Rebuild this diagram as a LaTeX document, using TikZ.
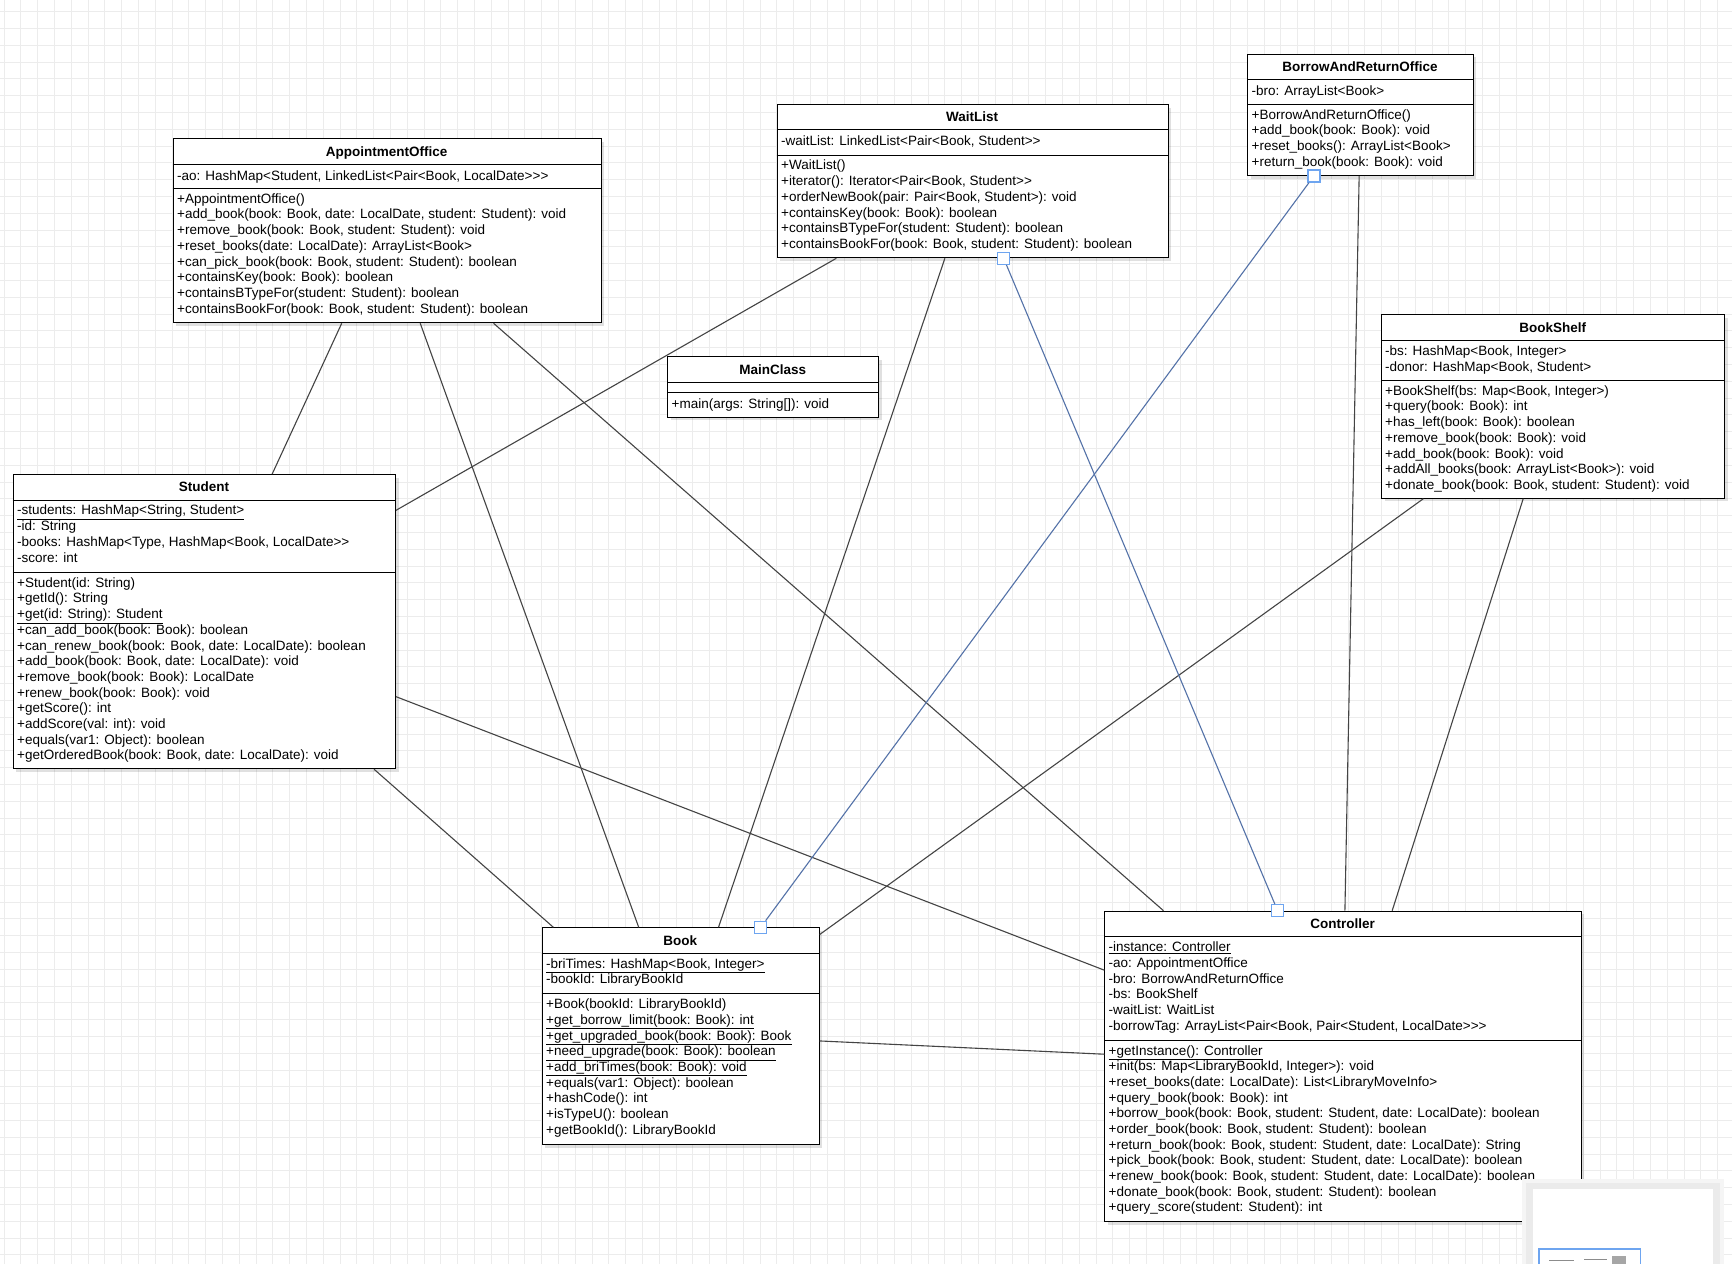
\documentclass[tikz,border=0pt]{standalone}
\usepackage{fontspec}
\setmainfont{Liberation Sans}
\usetikzlibrary{calc,shadows}

\definecolor{gridgray}{RGB}{236,236,236}
\definecolor{edgegray}{RGB}{68,68,68}
\definecolor{selblue}{RGB}{84,114,168}
\definecolor{handleblue}{RGB}{110,165,240}

\begin{document}
\begin{tikzpicture}[x=1pt,y=-1pt]
\tikzset{
  classbox/.style={draw,line width=1pt,fill=white,inner sep=0pt,anchor=north west,
    drop shadow={shadow xshift=3pt,shadow yshift=-3pt,opacity=0.12,fill=black}},
  classline/.style={line width=1pt},
  classtitle/.style={anchor=base,inner sep=0pt,font=\fontsize{13.5}{15.7}\selectfont\bfseries},
  classtext/.style={anchor=north west,inner sep=0pt,align=left,execute at begin node=\strut,
    font=\fontsize{13.5}{15.7}\selectfont},
  assoc/.style={draw=edgegray,line width=1.1pt},
  selassoc/.style={draw=selblue,line width=1.1pt},
  handle/.style={draw=handleblue,line width=1.3pt,fill=white,minimum size=12pt,inner sep=0pt},
  gridline/.style={draw=gridgray,line width=1pt}
}
\useasboundingbox (0,0) rectangle (1732,1264);
\fill[white] (0,0) rectangle (1732,1264);
\foreach \gx in {0,...,102} \draw[gridline] ({4+16.8*\gx},0) -- ({4+16.8*\gx},1264);
\foreach \gy in {0,...,74} \draw[gridline] (0,{11.7+16.8*\gy}) -- (1732,{11.7+16.8*\gy});

\node[classbox,minimum width=428pt,minimum height=184pt] (n_ao) at (172.7,138.3) {};
\draw[classline] (172.7,164) -- (600.7,164);
\draw[classline] (172.7,188.3) -- (600.7,188.3);
\node[classtitle] (n_ao_t) at (386.7,156) {AppointmentOffice};
\node[classtext] (n_ao_a) at (177,169) {-ao: HashMap<Student, LinkedList<Pair<Book, LocalDate>{}>{}>};
\node[classtext] (n_ao_m) at (177,193.3) {+AppointmentOffice()\\
+add\_book(book: Book, date: LocalDate, student: Student): void\\
+remove\_book(book: Book, student: Student): void\\
+reset\_books(date: LocalDate): ArrayList<Book>\\
+can\_pick\_book(book: Book, student: Student): boolean\\
+containsKey(book: Book): boolean\\
+containsBTypeFor(student: Student): boolean\\
+containsBookFor(book: Book, student: Student): boolean};

\node[classbox,minimum width=391pt,minimum height=153pt] (n_wl) at (776.7,104.3) {};
\draw[classline] (776.7,129.7) -- (1167.7,129.7);
\draw[classline] (776.7,155) -- (1167.7,155);
\node[classtitle] (n_wl_t) at (972.2,121.8) {WaitList};
\node[classtext] (n_wl_a) at (781,134.7) {-waitList: LinkedList<Pair<Book, Student>{}>};
\node[classtext] (n_wl_m) at (781,160) {+WaitList()\\
+iterator(): Iterator<Pair<Book, Student>{}>\\
+orderNewBook(pair: Pair<Book, Student>): void\\
+containsKey(book: Book): boolean\\
+containsBTypeFor(student: Student): boolean\\
+containsBookFor(book: Book, student: Student): boolean};

\node[classbox,minimum width=225.4pt,minimum height=121.3pt] (n_bro) at (1247.3,53.7) {};
\draw[classline] (1247.3,79.7) -- (1472.7,79.7);
\draw[classline] (1247.3,104.3) -- (1472.7,104.3);
\node[classtitle] (n_bro_t) at (1360,71.5) {BorrowAndReturnOffice};
\node[classtext] (n_bro_a) at (1251.5,84.7) {-bro: ArrayList<Book>};
\node[classtext] (n_bro_m) at (1251.5,109.3) {+BorrowAndReturnOffice()\\
+add\_book(book: Book): void\\
+reset\_books(): ArrayList<Book>\\
+return\_book(book: Book): void};

\node[classbox,minimum width=343.3pt,minimum height=183.4pt] (n_bs) at (1381,314.3) {};
\draw[classline] (1381,340.7) -- (1724.3,340.7);
\draw[classline] (1381,380.3) -- (1724.3,380.3);
\node[classtitle] (n_bs_t) at (1552.7,332.3) {BookShelf};
\node[classtext] (n_bs_a) at (1385,345.7) {-bs: HashMap<Book, Integer>\\
-donor: HashMap<Book, Student>};
\node[classtext] (n_bs_m) at (1385,385.3) {+BookShelf(bs: Map<Book, Integer>)\\
+query(book: Book): int\\
+has\_left(book: Book): boolean\\
+remove\_book(book: Book): void\\
+add\_book(book: Book): void\\
+addAll\_books(book: ArrayList<Book>): void\\
+donate\_book(book: Book, student: Student): void};

\node[classbox,minimum width=211pt,minimum height=60.7pt] (n_main) at (667.3,356) {};
\draw[classline] (667.3,382.3) -- (878.3,382.3);
\draw[classline] (667.3,392.3) -- (878.3,392.3);
\node[classtitle] (n_main_t) at (772.8,374) {MainClass};
\node[classtext] (n_main_m) at (671.5,397.3) {+main(args: String[]): void};

\node[classbox,minimum width=382.3pt,minimum height=294.3pt] (n_st) at (12.7,474) {};
\draw[classline] (12.7,500) -- (395,500);
\draw[classline] (12.7,572.3) -- (395,572.3);
\node[classtitle] (n_st_t) at (203.9,491.8) {Student};
\node[classtext] (n_st_a) at (17,505) {\underline{-students: HashMap<String, Student>}\\
-id: String\\
-books: HashMap<Type, HashMap<Book, LocalDate>{}>\\
-score: int};
\node[classtext] (n_st_m) at (17,577.3) {+Student(id: String)\\
+getId(): String\\
\underline{+get(id: String): Student}\\
+can\_add\_book(book: Book): boolean\\
+can\_renew\_book(book: Book, date: LocalDate): boolean\\
+add\_book(book: Book, date: LocalDate): void\\
+remove\_book(book: Book): LocalDate\\
+renew\_book(book: Book): void\\
+getScore(): int\\
+addScore(val: int): void\\
+equals(var1: Object): boolean\\
+getOrderedBook(book: Book, date: LocalDate): void};

\node[classbox,minimum width=277pt,minimum height=216.7pt] (n_bk) at (541.7,927.3) {};
\draw[classline] (541.7,953.3) -- (818.7,953.3);
\draw[classline] (541.7,993.7) -- (818.7,993.7);
\node[classtitle] (n_bk_t) at (680.2,945.1) {Book};
\node[classtext] (n_bk_a) at (546,958.3) {\underline{-briTimes: HashMap<Book, Integer>}\\
-bookId: LibraryBookId};
\node[classtext] (n_bk_m) at (546,998.7) {+Book(bookId: LibraryBookId)\\
\underline{+get\_borrow\_limit(book: Book): int}\\
\underline{+get\_upgraded\_book(book: Book): Book}\\
\underline{+need\_upgrade(book: Book): boolean}\\
\underline{+add\_briTimes(book: Book): void}\\
+equals(var1: Object): boolean\\
+hashCode(): int\\
+isTypeU(): boolean\\
+getBookId(): LibraryBookId};

\node[classbox,minimum width=476.4pt,minimum height=310.3pt] (n_ctl) at (1104.3,910.7) {};
\draw[classline] (1104.3,936.7) -- (1580.7,936.7);
\draw[classline] (1104.3,1040) -- (1580.7,1040);
\node[classtitle] (n_ctl_t) at (1342.5,928.5) {Controller};
\node[classtext] (n_ctl_a) at (1108.5,941.7) {\underline{-instance: Controller}\\
-ao: AppointmentOffice\\
-bro: BorrowAndReturnOffice\\
-bs: BookShelf\\
-waitList: WaitList\\
-borrowTag: ArrayList<Pair<Book, Pair<Student, LocalDate>{}>{}>};
\node[classtext] (n_ctl_m) at (1108.5,1045) {\underline{+getInstance(): Controller}\\
+init(bs: Map<LibraryBookId, Integer>): void\\
+reset\_books(date: LocalDate): List<LibraryMoveInfo>\\
+query\_book(book: Book): int\\
+borrow\_book(book: Book, student: Student, date: LocalDate): boolean\\
+order\_book(book: Book, student: Student): boolean\\
+return\_book(book: Book, student: Student, date: LocalDate): String\\
+pick\_book(book: Book, student: Student, date: LocalDate): boolean\\
+renew\_book(book: Book, student: Student, date: LocalDate): boolean\\
+donate\_book(book: Book, student: Student): boolean\\
+query\_score(student: Student): int};

\draw[assoc] ($(n_ao.south west)!0.394!(n_ao.south east)$) -- ($(n_st.north west)!0.677!(n_st.north east)$);
\draw[assoc] ($(n_ao.south west)!0.577!(n_ao.south east)$) -- ($(n_bk.north west)!0.349!(n_bk.north east)$);
\draw[assoc] ($(n_ao.south west)!0.748!(n_ao.south east)$) -- ($(n_ctl.north west)!0.124!(n_ctl.north east)$);
\draw[assoc] ($(n_wl.south west)!0.152!(n_wl.south east)$) -- ($(n_st.north east)!0.123!(n_st.south east)$);
\draw[assoc] ($(n_wl.south west)!0.429!(n_wl.south east)$) -- ($(n_bk.north west)!0.636!(n_bk.north east)$);
\draw[assoc] ($(n_bro.south west)!0.494!(n_bro.south east)$) -- ($(n_ctl.north west)!0.504!(n_ctl.north east)$);
\draw[assoc] ($(n_bs.south west)!0.123!(n_bs.south east)$) -- ($(n_bk.north east)!0.033!(n_bk.south east)$);
\draw[assoc] ($(n_bs.south west)!0.413!(n_bs.south east)$) -- ($(n_ctl.north west)!0.603!(n_ctl.north east)$);
\draw[assoc] ($(n_st.north east)!0.754!(n_st.south east)$) -- ($(n_ctl.north west)!0.191!(n_ctl.south west)$);
\draw[assoc] ($(n_st.south west)!0.943!(n_st.south east)$) -- ($(n_bk.north west)!0.042!(n_bk.north east)$);
\draw[assoc] ($(n_bk.north east)!0.522!(n_bk.south east)$) -- ($(n_ctl.north west)!0.461!(n_ctl.south west)$);
\node[handle] (n_h1) at ($(n_wl.south west)!0.579!(n_wl.south east)$) {};
\node[handle] (n_h2) at ($(n_ctl.north west)!0.363!(n_ctl.north east)$) {};
\node[handle] (n_h3) at ($(n_bro.south west)!0.294!(n_bro.south east)$) {};
\node[handle] (n_h4) at ($(n_bk.north west)!0.788!(n_bk.north east)$) {};
\draw[selassoc] (n_h1) -- (n_h2);
\draw[selassoc] (n_h3) -- (n_h4);

\fill[black!4] (1522,1179) rectangle (1724,1264);
\fill[black!8] (1526,1183) rectangle (1720,1264);
\fill[white] (1532.7,1189) rectangle (1712.7,1264);
\draw[handleblue,line width=1.2pt] (1539,1264) -- (1539,1249) -- (1640.7,1249) -- (1640.7,1264);
\fill[black!45] (1549,1259.5) rectangle (1574,1261);
\fill[black!45] (1584,1258.5) rectangle (1607,1260);
\fill[black!35] (1612,1256) rectangle (1626,1264);
\end{tikzpicture}
\end{document}
